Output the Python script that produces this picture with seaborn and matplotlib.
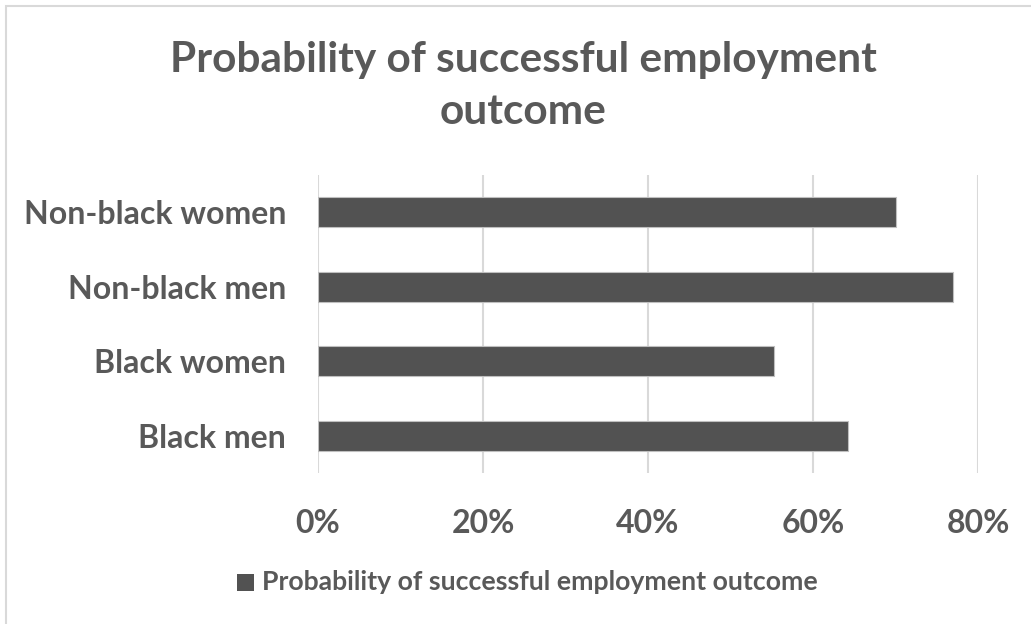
import matplotlib
matplotlib.use("Agg")
import matplotlib.pyplot as plt
import matplotlib.patches as mpatches
import seaborn as sns
import pandas as pd

groups = ["Non-black women", "Non-black men", "Black women", "Black men"]
probability = [0.70, 0.77, 0.553, 0.642]
x_ticks = [0.0, 0.2, 0.4, 0.6, 0.8]
x_tick_labels = ["0%", "20%", "40%", "60%", "80%"]
series_name = "Probability of successful employment outcome"
title_text = "Probability of successful employment\noutcome"

sns.set_theme(style="white")
plt.rcParams["font.family"] = ["Lato", "DejaVu Sans"]

text_color = "#595959"
bar_color = "#525252"
grid_color = "#d9d9d9"

df = pd.DataFrame({"group": groups, "value": probability})

fig = plt.figure(figsize=(10.31, 6.24), dpi=100)
fig.patch.set_facecolor("white")
# light chart-area frame (left and top edges visible)
fig.add_artist(mpatches.Rectangle((6 / 1031, -0.1), 1.2, 1.1 - 6 / 624,
                                  transform=fig.transFigure, fill=False,
                                  edgecolor="#d9d9d9", linewidth=1.5))

ax = fig.add_axes([318 / 1031, 1 - 473 / 624, (978 - 318) / 1031, (473 - 175) / 624])
sns.barplot(data=df, x="value", y="group", order=groups, orient="h",
            color=bar_color, saturation=1, width=0.4, ax=ax,
            edgecolor="#bfbfbf", linewidth=0.8)

ax.set_xlim(0, 0.8)
ax.set_ylim(3.5, -0.5)
ax.set_xticks(x_ticks)
ax.set_xticklabels(x_tick_labels)
ax.set_xlabel("")
ax.set_ylabel("")
for s in ax.spines.values():
    s.set_visible(False)
ax.set_axisbelow(True)
for xv in x_ticks:
    ax.axvline(xv, color=grid_color, linewidth=1.5, zorder=0)
ax.tick_params(axis="both", length=0, colors=text_color, labelsize=23)
ax.tick_params(axis="x", pad=26)
ax.tick_params(axis="y", pad=23)
for lab in ax.get_xticklabels() + ax.get_yticklabels():
    lab.set_fontweight("bold")
    lab.set_color(text_color)

fig.text(523 / 1031, 1 - 86 / 624, title_text, ha="center", va="center",
         fontsize=30.5, fontweight="bold", color=text_color, linespacing=1.48)

# legend entry
fig.add_artist(mpatches.Rectangle((237 / 1031, 1 - 591 / 624), 17 / 1031, 17 / 624,
                                  transform=fig.transFigure, facecolor=bar_color,
                                  edgecolor="none"))
fig.text(262 / 1031, 1 - 582 / 624, series_name, ha="left", va="center",
         fontsize=19.2, fontweight="bold", color=text_color)

fig.savefig("out.png", dpi=100, facecolor="white")
